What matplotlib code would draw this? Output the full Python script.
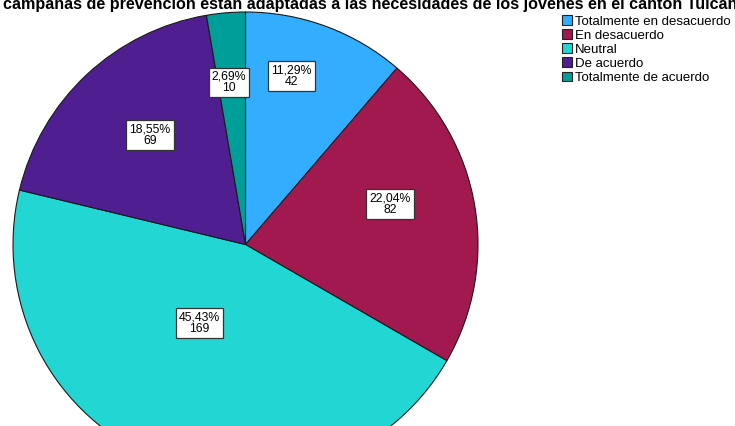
"""Pie chart of answers: campaigns adapted to the needs of young people in Tulcán."""
import matplotlib.pyplot as plt
import numpy as np

plt.rcParams["font.family"] = ["Liberation Sans", "DejaVu Sans"]

TITLE = ("campañas de prevención están adaptadas a las necesidades de los "
         "jóvenes en el cantón Tulcán")
CATEGORIES = ["Totalmente en desacuerdo", "En desacuerdo", "Neutral",
              "De acuerdo", "Totalmente de acuerdo"]
COUNTS = [42, 82, 169, 69, 10]
PERCENTS = ["11,29%", "22,04%", "45,43%", "18,55%", "2,69%"]
COLORS = ["#33ADFF", "#A1194E", "#22D6D4", "#4F1F92", "#009E98"]

# label placement (angle offset from wedge middle in degrees, radius fraction)
LABEL_PLACE = [(5, 0.75), (6, 0.645), (-8.5, 0.39), (-2, 0.625), (1, 0.70)]

W, H = 735, 426
CX, CY, R = 245.5, 244.5, 232.5


def main():
    fig = plt.figure(figsize=(W / 100, H / 100), dpi=100)
    fig.patch.set_facecolor("white")
    ax = fig.add_axes([(CX - R) / W, (H - CY - R) / H, 2 * R / W, 2 * R / H])

    wedges, _ = ax.pie(
        COUNTS,
        colors=COLORS,
        startangle=90,
        counterclock=False,
        radius=1.0,
        wedgeprops=dict(edgecolor="#1a1a1a", linewidth=0.8),
    )
    ax.set_xlim(-1, 1)
    ax.set_ylim(-1, 1)
    ax.axis("off")

    for w, pct, n, (da, rf) in zip(wedges, PERCENTS, COUNTS, LABEL_PLACE):
        mid = np.deg2rad((w.theta1 + w.theta2) / 2 + da)
        ax.text(rf * np.cos(mid), rf * np.sin(mid), f"{pct}\n{n}",
                ha="center", va="center", fontsize=8.8, linespacing=0.95,
                bbox=dict(boxstyle="square,pad=0.25", facecolor="white",
                          edgecolor="#333333", linewidth=0.9))

    fig.text(3 / W, 1 - 9 / H, TITLE, ha="left", va="baseline",
             fontsize=11.6, fontweight="bold")

    leg = fig.legend(wedges, CATEGORIES, loc="upper left",
                     bbox_to_anchor=(562 / W, 1 - 15 / H),
                     frameon=False, fontsize=9.5, borderpad=0, borderaxespad=0,
                     handlelength=0.78, handleheight=0.78, handletextpad=0.2,
                     labelspacing=0.12)
    for p in leg.get_patches():
        p.set_edgecolor("#222222")
        p.set_linewidth(0.8)

    fig.savefig("out.png", dpi=100, facecolor="white")


if __name__ == "__main__":
    main()
